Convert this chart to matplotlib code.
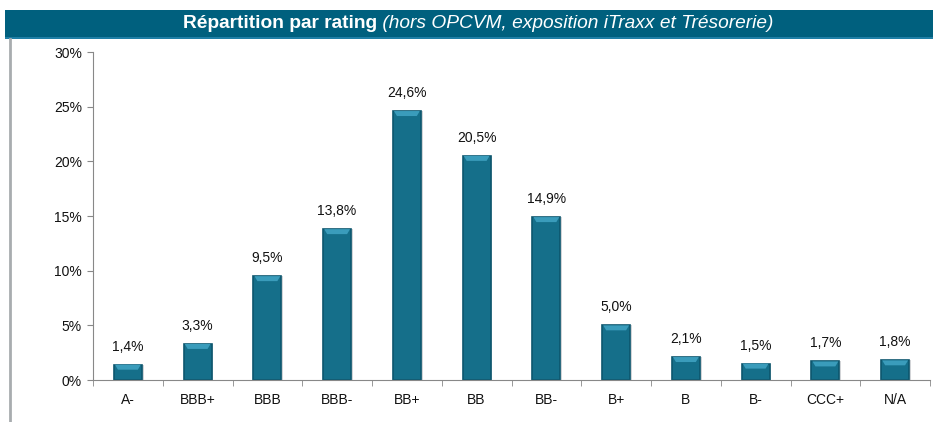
import matplotlib
matplotlib.use("Agg")
import matplotlib.pyplot as plt
import numpy as np
from matplotlib.ticker import FuncFormatter, FixedLocator
from matplotlib.patches import Rectangle, Polygon
from matplotlib.lines import Line2D

categories = ["A-", "BBB+", "BBB", "BBB-", "BB+", "BB", "BB-", "B+", "B", "B-", "CCC+", "N/A"]
values = [1.4, 3.3, 9.5, 13.8, 24.6, 20.5, 14.9, 5.0, 2.1, 1.5, 1.7, 1.8]
yticks = [0, 5, 10, 15, 20, 25, 30]
title_bold = "Répartition par rating"
title_italic = " (hors OPCVM, exposition iTraxx et Trésorerie)"

plt.rcParams['font.family'] = ['Liberation Sans', 'DejaVu Sans']

fig = plt.figure(figsize=(9.33, 4.22), dpi=100)
W, H = 933, 422

# title bar
fig.patches.append(Rectangle((5 / W, 1 - 37 / H), 1 - 5 / W, 27 / H, transform=fig.transFigure,
                             facecolor="#00607E", edgecolor="none"))
fig.patches.append(Rectangle((5 / W, 1 - 39 / H), 1 - 5 / W, 2 / H, transform=fig.transFigure,
                             facecolor="#1F7FA6", edgecolor="none"))
# left border line
fig.lines.append(Line2D([9.5 / W, 9.5 / W], [0, 1 - 39 / H], transform=fig.transFigure,
                        color="#A8ACAF", lw=2))

tb = fig.text(0.5, 1 - 23.5 / H, title_bold, color="white", fontsize=13.8, fontweight="bold",
              ha="right", va="center")
ti = fig.text(0.5, 1 - 23.5 / H, title_italic, color="white", fontsize=13.8, style="italic",
              ha="left", va="center")
fig.canvas.draw()
r = fig.canvas.get_renderer()
wb = tb.get_window_extent(r).width
wi = ti.get_window_extent(r).width
start = 478 - (wb + wi) / 2
tb.set_x((start + wb) / W)
ti.set_x((start + wb) / W)

ax = fig.add_axes([93 / W, 1 - 380 / H, (930 - 93) / W, (380 - 52) / H])
x = np.arange(len(categories))
bw = 0.4
# soft shadow
ax.bar(x + 0.025, values, width=bw, color="#BFC3C6", edgecolor="none", zorder=1.5, alpha=0.7)
bars = ax.bar(x, values, width=bw, color="#156F8A", edgecolor="#0D566E", linewidth=1.2, zorder=2)

px_y = 30 / 328.0   # data units per pixel (y)
px_x = 1 / 69.75    # data units per pixel (x)
for b in bars:
    bx, by, w, h = b.get_x(), b.get_y(), b.get_width(), b.get_height()
    capv = 5 * px_y
    inset = 4 * px_x
    top = by + h
    poly = Polygon([(bx + 1 * px_x, top), (bx + w - 1 * px_x, top),
                    (bx + w - inset, top - capv), (bx + inset, top - capv)],
                   closed=True, facecolor="#3A9CBB", edgecolor="none", zorder=3)
    ax.add_patch(poly)

for xi, v in zip(x, values):
    ax.text(xi, v + 1.0, f"{v:.1f}".replace(".", ",") + "%", ha="center", va="bottom", fontsize=10, color="#111111")

ax.set_xlim(-0.5, len(categories) - 0.5)
ax.set_ylim(0, 30)
ax.set_yticks(yticks)
ax.yaxis.set_major_formatter(FuncFormatter(lambda v, p: f"{int(v)}%"))
ax.set_xticks(x)
ax.set_xticklabels(categories)
ax.xaxis.set_minor_locator(FixedLocator(np.arange(-0.5, len(categories) + 0.5, 1)))
ax.tick_params(axis="x", which="major", length=0, pad=9, labelsize=10, labelcolor="#111111")
ax.tick_params(axis="x", which="minor", length=4, color="#888888", direction="out")
ax.tick_params(axis="y", length=4, color="#888888", labelsize=10, labelcolor="#111111", pad=4)
for s in ["top", "right"]:
    ax.spines[s].set_visible(False)
ax.spines["left"].set_color("#888888")
ax.spines["bottom"].set_color("#888888")
ax.spines["bottom"].set_zorder(4)
ax.set_facecolor("none")

fig.savefig("out.png", dpi=100)
